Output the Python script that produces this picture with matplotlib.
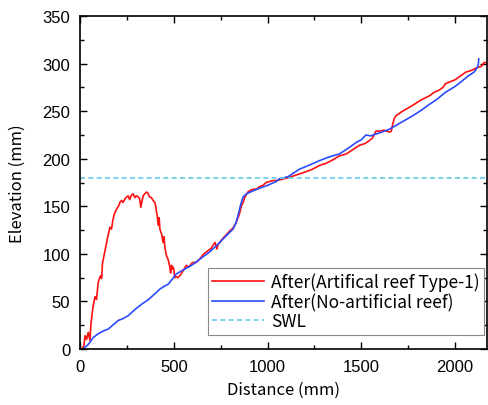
import matplotlib
matplotlib.use("Agg")
import matplotlib.pyplot as plt
from matplotlib.ticker import MultipleLocator

# Red: After (Artificial reef Type-1)
red_x = [0, 9, 20, 27, 35, 44, 50, 53, 58, 62, 70, 80, 88, 97, 105, 110, 115, 120, 128, 135, 142,
         150, 160, 168, 175, 183, 195, 205, 215, 222, 230, 240, 250, 257, 265, 275, 284, 292, 300,
         310, 318, 324, 330, 337, 345, 355, 362, 370, 381, 390, 399, 404, 408, 412, 417, 422, 426,
         431, 436, 443, 448, 452, 461, 468, 475, 479, 483, 488, 493, 496, 500, 505, 512, 523, 540,
         555, 567, 580, 595, 605, 620, 640, 660, 680, 700, 709, 720, 730, 736, 745, 760, 780, 798,
         815, 833, 850, 860, 869, 880, 895, 910, 925, 940, 960, 975, 993, 1010, 1030, 1046, 1070,
         1090, 1108, 1140, 1170, 1200, 1240, 1277, 1310, 1350, 1383, 1420, 1450, 1489, 1520, 1543,
         1560, 1578, 1596, 1620, 1649, 1660, 1667, 1675, 1684, 1720, 1773, 1820, 1862, 1890, 1915,
         1935, 1950, 2000, 2057, 2090, 2119, 2140, 2154, 2170]
red_y = [0, 0, 3, 14, 10, 17.5, 12, 9, 25, 33, 45, 55, 52, 70, 75, 77, 74, 90, 98, 105, 112,
         120, 128, 126, 135, 142, 147, 150, 155, 156, 154, 158, 160, 161, 157, 162, 163, 159, 161,
         160, 158, 149, 155, 161, 163, 165, 164, 160, 159, 156, 154, 150, 144, 140, 130, 138, 126,
         123, 120, 112, 118, 108, 98, 95, 90, 86, 80, 88, 84, 86, 84, 75, 76, 75, 79,
         84, 88, 86, 90, 91, 91, 95, 100, 103, 106, 109, 112, 105, 110, 112, 116, 120, 124,
         127, 133, 142, 150, 154, 160, 165, 167, 168, 168, 171, 172, 175, 176, 177, 177, 178,
         179, 180, 182, 184, 186, 189, 193, 195, 199, 203, 205, 209, 214, 216, 219,
         222, 229, 229, 230, 228, 229, 236, 242, 245, 250, 256, 262, 266, 270, 272,
         275, 279, 283, 291, 293, 296, 297, 301, 301]

# Blue: After (No-artificial reef)
blue_x = [0, 15, 27, 40, 53, 70, 97, 125, 151, 180, 204, 230, 257, 290, 328, 365, 399, 426,
          450, 470, 514, 559, 603, 650, 691, 740, 780, 800, 816, 830, 842, 852, 860, 870, 887,
          920, 957, 1000, 1046, 1064, 1108, 1170, 1220, 1277, 1330, 1383, 1430, 1472, 1500,
          1525, 1550, 1578, 1610, 1649, 1667, 1720, 1773, 1820, 1862, 1900, 1950, 2000, 2039,
          2070, 2101, 2119, 2124, 2126]
blue_y = [0, 0, 2, 4, 7, 12, 16, 19, 21, 26, 30, 32, 35, 41, 47, 52, 58, 63,
          66, 68, 79, 84, 89, 96, 102, 111, 119, 123, 126, 132, 140, 148, 154, 160, 163,
          166, 169, 172, 176, 179, 181, 189, 193, 198, 202, 205, 211, 217, 220,
          225, 224, 226, 228, 231, 233, 239, 245, 251, 257, 262, 270, 276, 282,
          287, 291, 296, 300, 305]

swl_level = 180
xlim = (0, 2170)
ylim = (0, 350)

plt.rcParams['font.family'] = ['Liberation Sans', 'DejaVu Sans']

fig = plt.figure(figsize=(4.88, 4.06), dpi=100)
ax = fig.add_axes([80/488, 56/406, 407/488, 333/406])

ax.plot(red_x, red_y, color='#ff1010', lw=1.2, label='After(Artifical reef Type-1)')
ax.plot(blue_x, blue_y, color='#2a4cff', lw=1.2, label='After(No-artificial reef)')
ax.axhline(swl_level, color='#66cce6', lw=1.2, ls=(0, (3, 2)), label='SWL')

ax.set_xlim(*xlim)
ax.set_ylim(*ylim)
ax.xaxis.set_major_locator(MultipleLocator(500))
ax.xaxis.set_minor_locator(MultipleLocator(250))
ax.yaxis.set_major_locator(MultipleLocator(50))
ax.yaxis.set_minor_locator(MultipleLocator(25))
ax.tick_params(which='both', direction='in', top=True, right=True, width=1.0, labelsize=12)
ax.tick_params(which='major', length=5, pad=7)
ax.tick_params(which='minor', length=3)
for s in ax.spines.values():
    s.set_linewidth(1.2)

jp = ['Noto Sans CJK JP', 'DejaVu Sans']
ax.set_xlabel('Distance (mm)', family=jp, fontsize=12, labelpad=5)
ax.set_ylabel('Elevation (mm)', family=jp, fontsize=12, labelpad=12)

leg = ax.legend(loc='lower right', bbox_to_anchor=(1.0, 0.035), prop={'family': jp, 'size': 12.5},
                frameon=True, fancybox=False, edgecolor='#888888', framealpha=1,
                handlelength=3.0, handletextpad=0.4, labelspacing=0.08, borderpad=0.25,
                borderaxespad=0.15)
leg.get_frame().set_linewidth(0.8)

fig.savefig('out.png', dpi=100)
